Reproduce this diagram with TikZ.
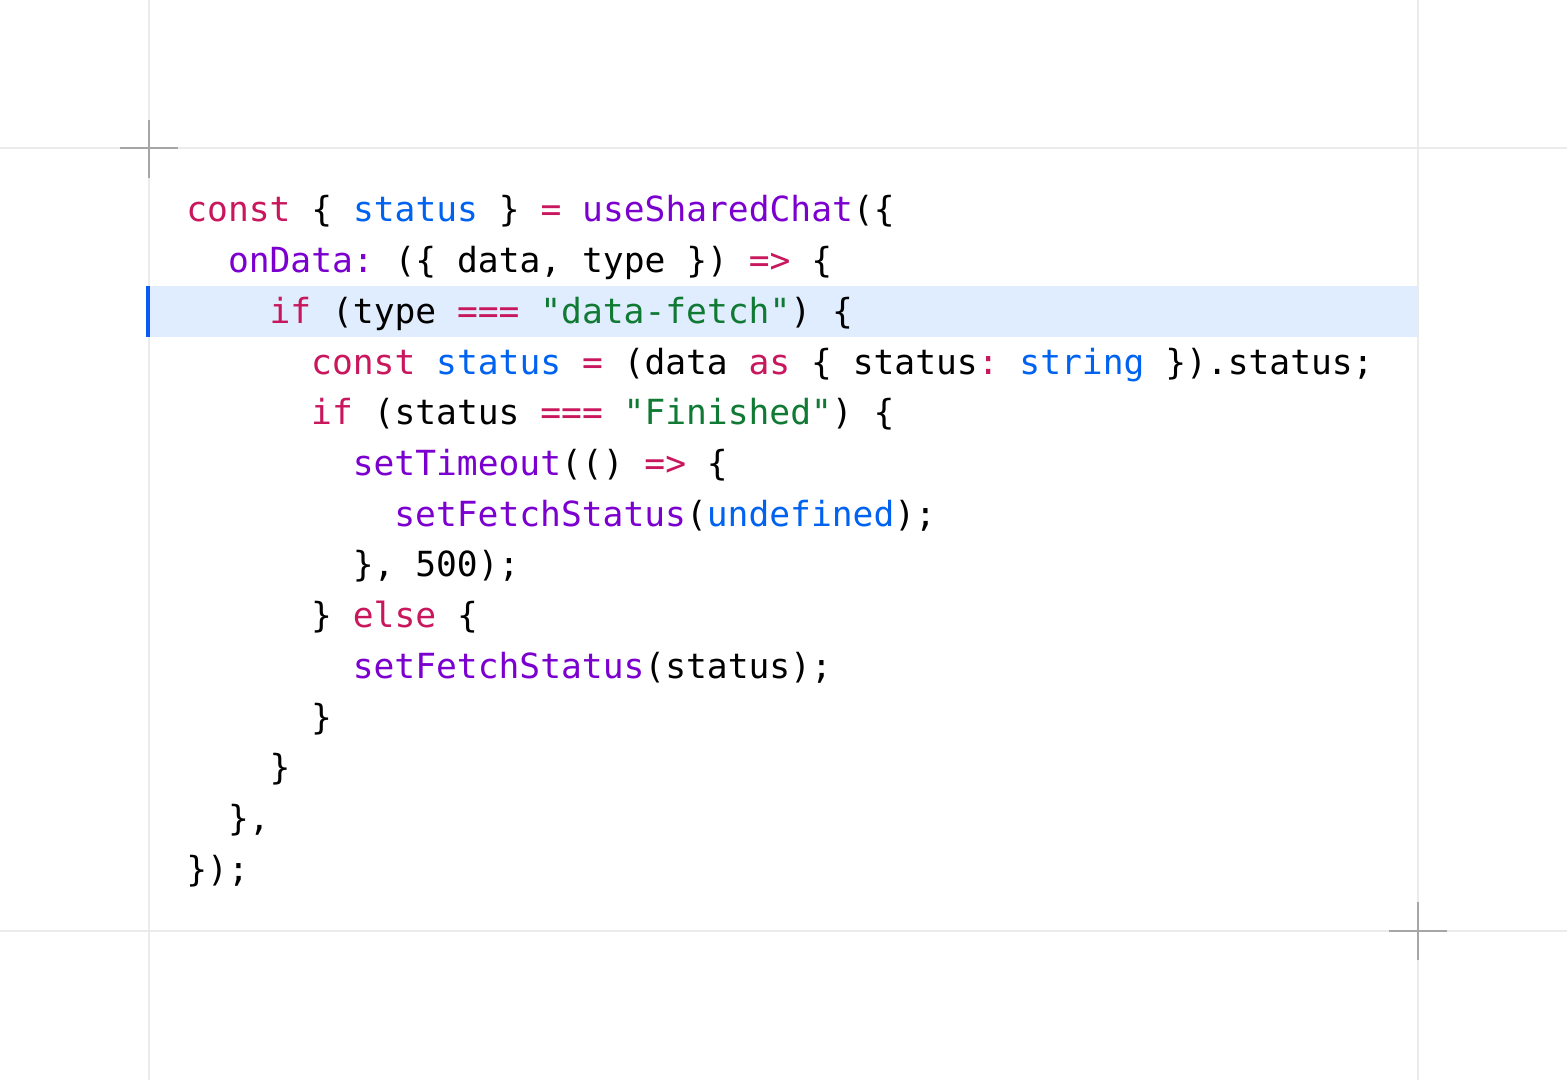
\documentclass[tikz,border=0pt]{standalone}
\usepackage{fontspec}
\usepackage{tikz}
\usetikzlibrary{positioning}
\newfontfamily\codefont{DejaVu Sans Mono}
\definecolor{kwcol}{HTML}{C8175D}
\definecolor{varcol}{HTML}{0062F0}
\definecolor{fncol}{HTML}{7B00D0}
\definecolor{strcol}{HTML}{107A34}
\definecolor{gridcol}{HTML}{EBEBEB}
\definecolor{crosscol}{HTML}{A6A6A6}
\definecolor{hlcol}{HTML}{DFEDFE}
\definecolor{barcol}{HTML}{0A5CF0}
\newcommand{\kw}[1]{\textcolor{kwcol}{#1}}
\newcommand{\vr}[1]{\textcolor{varcol}{#1}}
\newcommand{\fn}[1]{\textcolor{fncol}{#1}}
\newcommand{\st}[1]{\textcolor{strcol}{#1}}
\frenchspacing
\tikzset{
 codeline/.style={anchor=base west, inner sep=0pt,
 font=\codefont\fontsize{17.3}{20}\selectfont\frenchspacing},
 gridline/.style={draw=gridcol, line width=1pt},
 crossline/.style={draw=crosscol, line width=1pt}
}

\begin{document}
\begin{tikzpicture}[x=0.5pt,y=-0.5pt]
 \useasboundingbox (0,0) rectangle (1567,1080);
 % frame lines
 \draw [gridline] (149,0) -- (149,1080);
 \draw [gridline] (1418,0) -- (1418,1080);
 \draw [gridline] (0,148) -- (1567,148);
 \draw [gridline] (0,931) -- (1567,931);
 % highlighted line
 \fill [hlcol] (146,286) rectangle (1418,337);
 \fill [barcol] (146,286) rectangle (150,337);
 % corner marks
 \draw [crossline] (120,148) -- (178,148);
 \draw [crossline] (149,120) -- (149,178);
 \draw [crossline] (1389,931) -- (1447,931);
 \draw [crossline] (1418,902) -- (1418,960);
 % code
 \node [codeline] (l1) at (186.0,222.0) {\kw{const} \{ \vr{status} \} \kw{=} \fn{useSharedChat}(\{};
 \node [codeline] (l2) at (227.6,272.7) {\fn{onData:} (\{ data, type \}) \kw{=>} \{};
 \node [codeline] (l3) at (269.2,323.4) {\kw{if} (type \kw{===} \st{"data-fetch"}) \{};
 \node [codeline] (l4) at (310.8,374.1) {\kw{const} \vr{status} \kw{=} (data \kw{as} \{ status\kw{:} \vr{string} \}).status;};
 \node [codeline] (l5) at (310.8,424.8) {\kw{if} (status \kw{===} \st{"Finished"}) \{};
 \node [codeline] (l6) at (352.4,475.5) {\fn{setTimeout}(() \kw{=>} \{};
 \node [codeline] (l7) at (394.0,526.2) {\fn{setFetchStatus}(\vr{undefined});};
 \node [codeline] (l8) at (352.4,576.9) {\}, 500);};
 \node [codeline] (l9) at (310.8,627.6) {\} \kw{else} \{};
 \node [codeline] (l10) at (352.4,678.3) {\fn{setFetchStatus}(status);};
 \node [codeline] (l11) at (310.8,729.0) {\}};
 \node [codeline] (l12) at (269.2,779.7) {\}};
 \node [codeline] (l13) at (227.6,830.4) {\},};
 \node [codeline] (l14) at (186.0,881.1) {\});};
\end{tikzpicture}
\end{document}
